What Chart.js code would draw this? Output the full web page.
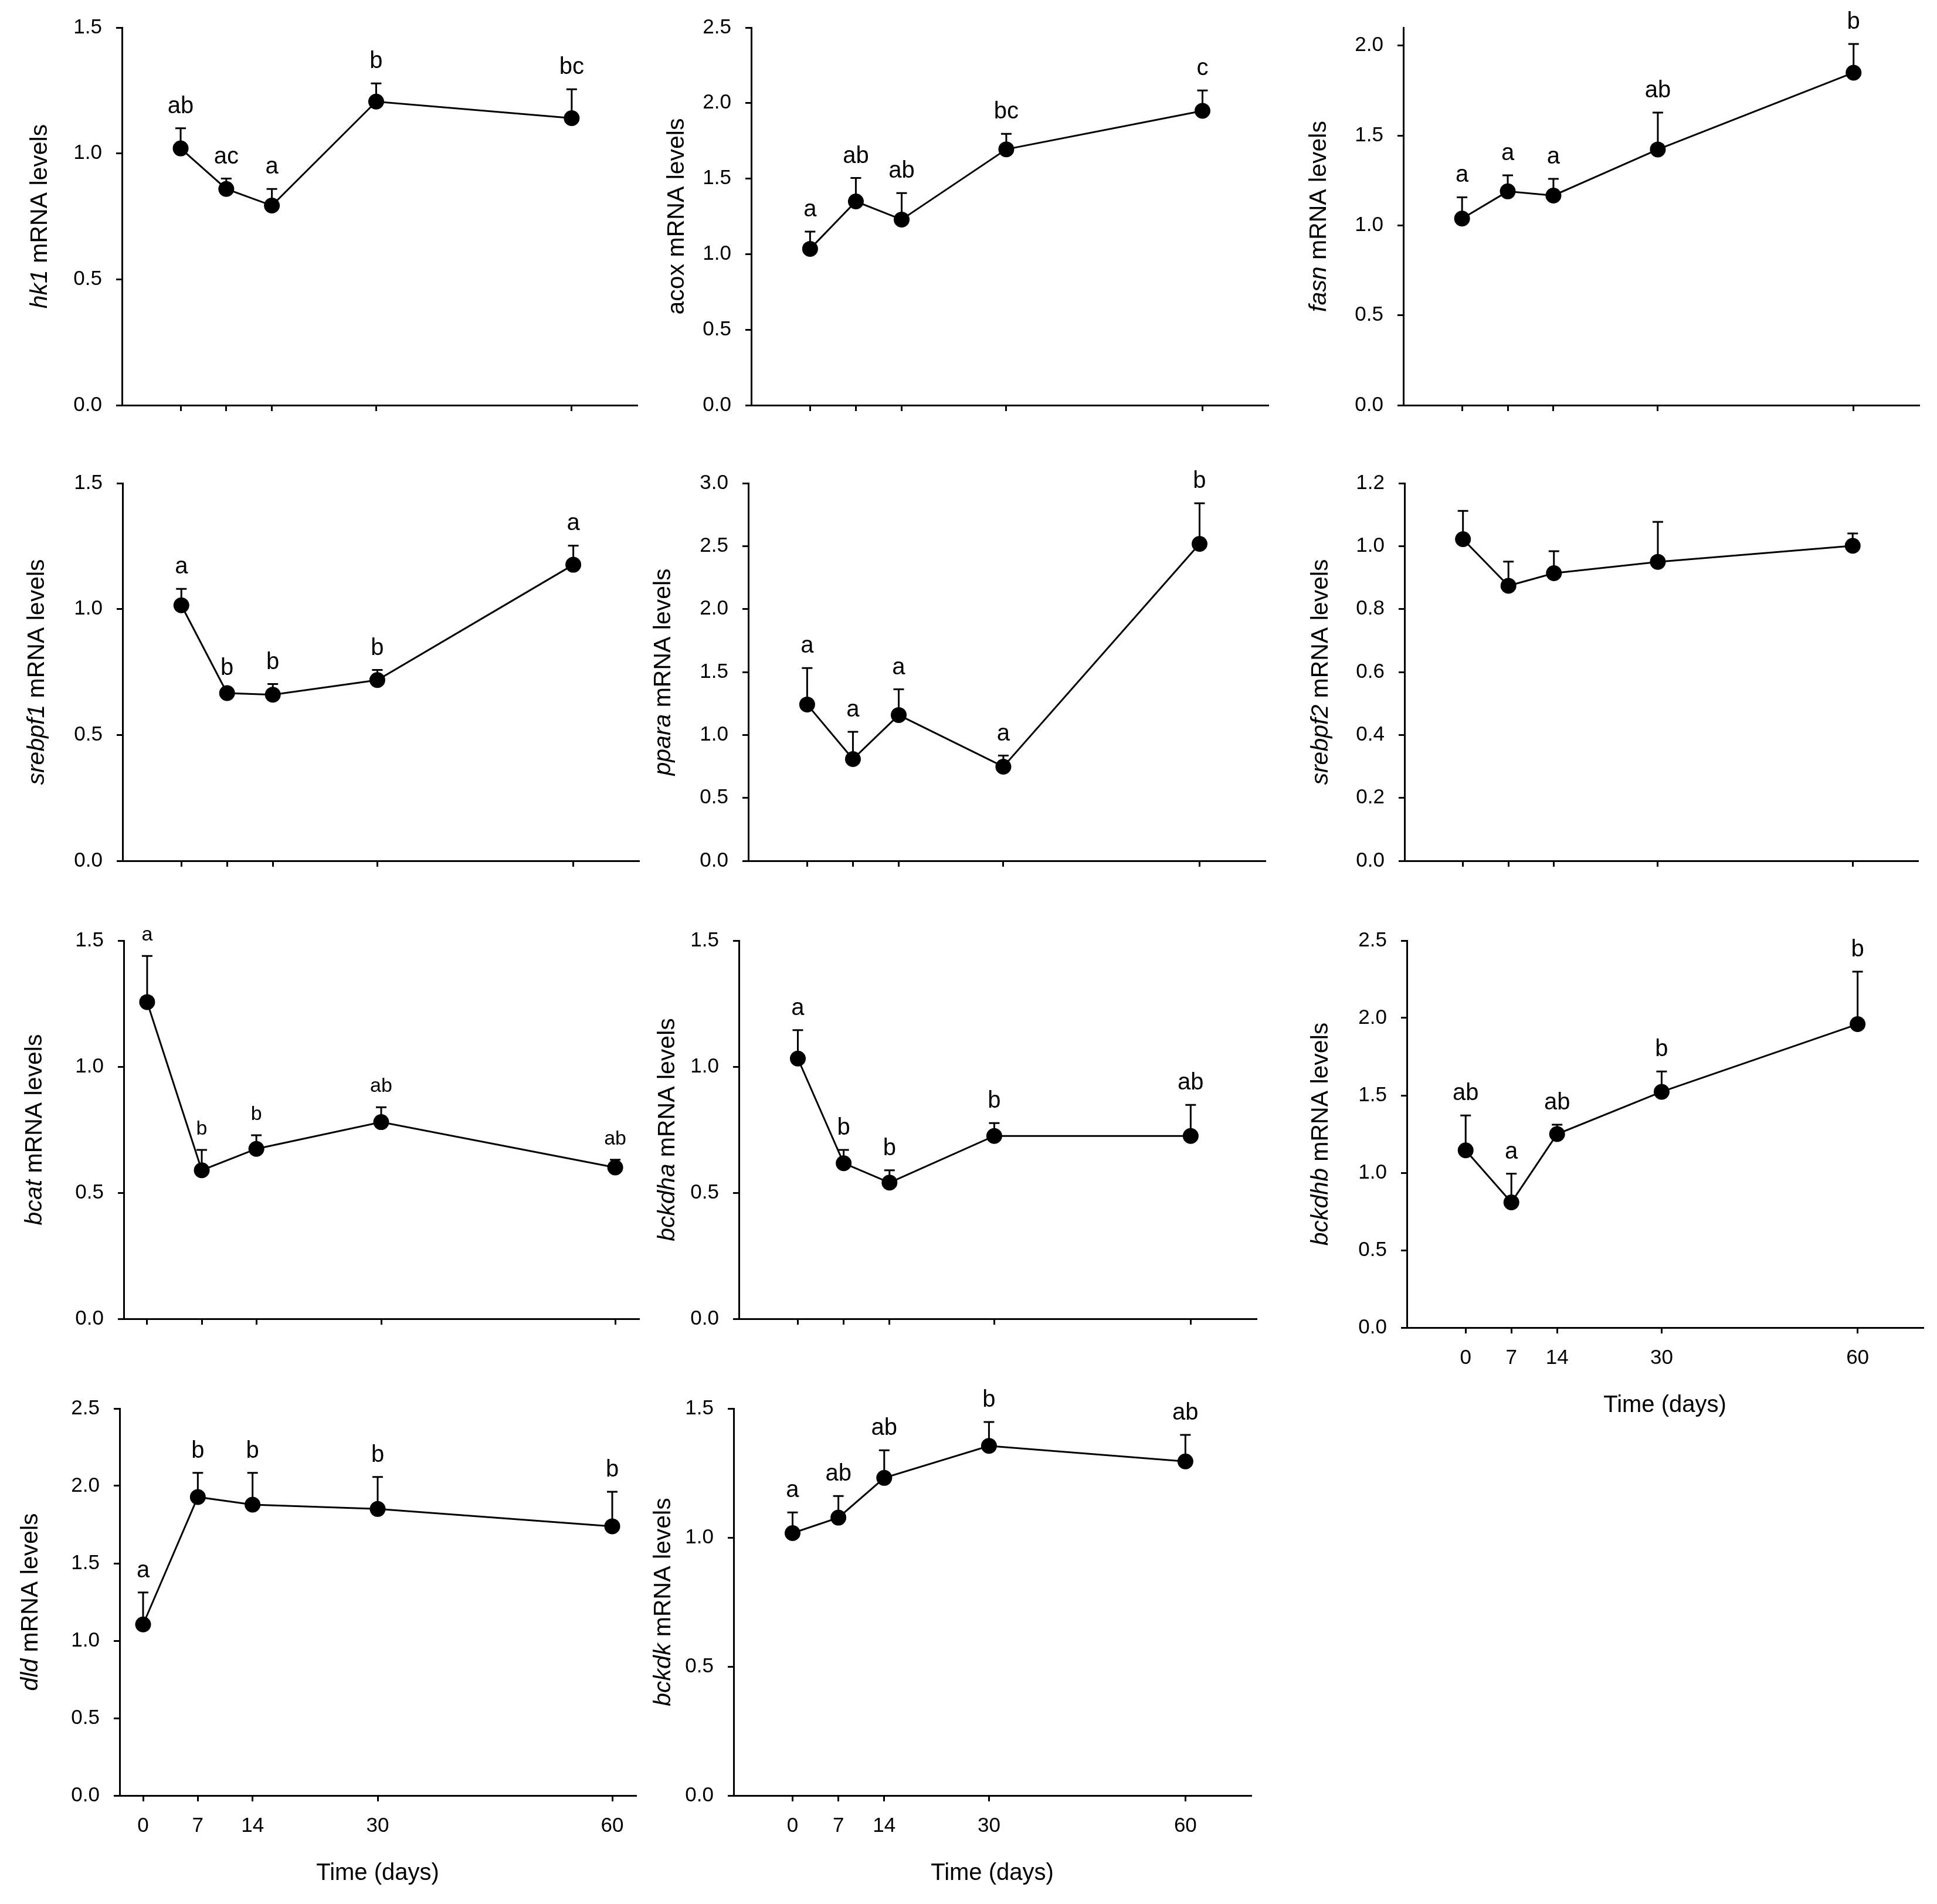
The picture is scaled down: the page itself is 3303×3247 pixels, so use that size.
<!DOCTYPE html>
<html>
<head>
<meta charset="utf-8">
<script src="https://cdn.jsdelivr.net/npm/chart.js@4.4.1/dist/chart.umd.min.js"></script>
<style>
html,body{margin:0;padding:0;background:#fff;}
body{width:3303px;height:3247px;position:relative;overflow:hidden;}
canvas{position:absolute;}
</style>
</head>
<body>
<script>
// ---------- DATA ----------
const days = [0, 7, 14, 30, 60];
const xTickLabels = ['0', '7', '14', '30', '60'];
const xTitle = 'Time (days)';
const yTitleSuffix = ' mRNA levels';

const hk1Mean = [1.020, 0.859, 0.793, 1.206, 1.140];
const hk1Err = [0.080, 0.041, 0.066, 0.072, 0.115];
const hk1Letters = ['ab', 'ac', 'a', 'b', 'bc'];

const acoxMean = [1.035, 1.349, 1.229, 1.694, 1.949];
const acoxErr = [0.114, 0.155, 0.175, 0.102, 0.135];
const acoxLetters = ['a', 'ab', 'ab', 'bc', 'c'];

const fasnMean = [1.038, 1.189, 1.166, 1.422, 1.849];
const fasnErr = [0.118, 0.089, 0.093, 0.205, 0.160];
const fasnLetters = ['a', 'a', 'a', 'ab', 'b'];

const srebpf1Mean = [1.015, 0.666, 0.660, 0.718, 1.176];
const srebpf1Err = [0.065, 0.012, 0.042, 0.040, 0.076];
const srebpf1Letters = ['a', 'b', 'b', 'b', 'a'];

const pparaMean = [1.242, 0.808, 1.158, 0.748, 2.518];
const pparaErr = [0.289, 0.217, 0.204, 0.088, 0.322];
const pparaLetters = ['a', 'a', 'a', 'a', 'b'];

const srebpf2Mean = [1.022, 0.874, 0.914, 0.950, 1.001];
const srebpf2Err = [0.090, 0.077, 0.070, 0.127, 0.039];
const srebpf2Letters = ['', '', '', '', ''];

const bcatMean = [1.256, 0.589, 0.674, 0.780, 0.600];
const bcatErr = [0.183, 0.081, 0.054, 0.059, 0.031];
const bcatLetters = ['a', 'b', 'b', 'ab', 'ab'];

const bckdhaMean = [1.032, 0.617, 0.540, 0.725, 0.725];
const bckdhaErr = [0.113, 0.053, 0.049, 0.051, 0.123];
const bckdhaLetters = ['a', 'b', 'b', 'b', 'ab'];

const bckdhbMean = [1.145, 0.809, 1.250, 1.523, 1.960];
const bckdhbErr = [0.225, 0.185, 0.061, 0.131, 0.339];
const bckdhbLetters = ['ab', 'a', 'ab', 'b', 'b'];

const dldMean = [1.105, 1.928, 1.879, 1.851, 1.739];
const dldErr = [0.207, 0.156, 0.205, 0.207, 0.223];
const dldLetters = ['a', 'b', 'b', 'b', 'b'];

const bckdkMean = [1.017, 1.077, 1.231, 1.355, 1.295];
const bckdkErr = [0.080, 0.084, 0.107, 0.093, 0.103];
const bckdkLetters = ['a', 'ab', 'ab', 'b', 'ab'];

// ---------- PANELS (data refs + layout) ----------
const panels = [
  {gene:'hk1', italic:true, mean:hk1Mean, err:hk1Err, letters:hk1Letters, yMax:1.5, yStep:0.5, xMin:-9, xMax:70,
   L:208, T:47, B:706, R:1086, titleDx:139, showX:false, letterSize:40},
  {gene:'acox', italic:false, mean:acoxMean, err:acoxErr, letters:acoxLetters, yMax:2.5, yStep:0.5, xMin:-9, xMax:70,
   L:1281, T:47, B:706, R:2162, titleDx:126, showX:false, letterSize:40},
  {gene:'fasn', italic:true, mean:fasnMean, err:fasnErr, letters:fasnLetters, yMax:2.1, yStep:0.5, xMin:-9, xMax:70,
   L:2393, T:47, B:706, R:3272, titleDx:143, showX:false, letterSize:40},

  {gene:'srebpf1', italic:true, mean:srebpf1Mean, err:srebpf1Err, letters:srebpf1Letters, yMax:1.5, yStep:0.5, xMin:-9, xMax:70,
   L:209, T:824, B:1483, R:1089, titleDx:145, showX:false, letterSize:40},
  {gene:'ppara', italic:true, mean:pparaMean, err:pparaErr, letters:pparaLetters, yMax:3.0, yStep:0.5, xMin:-9, xMax:70,
   L:1276, T:824, B:1483, R:2157, titleDx:144, showX:false, letterSize:40},
  {gene:'srebpf2', italic:true, mean:srebpf2Mean, err:srebpf2Err, letters:srebpf2Letters, yMax:1.2, yStep:0.2, xMin:-9, xMax:70,
   L:2395, T:824, B:1483, R:3270, titleDx:142, showX:false, letterSize:40},

  {gene:'bcat', italic:true, mean:bcatMean, err:bcatErr, letters:bcatLetters, yMax:1.5, yStep:0.5, xMin:-3, xMax:63,
   L:211, T:1604, B:2264, R:1089, titleDx:151, showX:false, letterSize:34},
  {gene:'bckdha', italic:true, mean:bckdhaMean, err:bckdhaErr, letters:bckdhaLetters, yMax:1.5, yStep:0.5, xMin:-9, xMax:70,
   L:1260, T:1604, B:2264, R:2142, titleDx:121, showX:false, letterSize:40},
  {gene:'bckdhb', italic:true, mean:bckdhbMean, err:bckdhbErr, letters:bckdhbLetters, yMax:2.5, yStep:0.5, xMin:-9, xMax:70,
   L:2399, T:1604, B:2264, R:3279, titleDx:146, showX:true, letterSize:40},

  {gene:'dld', italic:true, mean:dldMean, err:dldErr, letters:dldLetters, yMax:2.5, yStep:0.5, xMin:-3, xMax:63,
   L:204, T:2402, B:3062, R:1084, titleDx:151, showX:true, letterSize:40},
  {gene:'bckdk', italic:true, mean:bckdkMean, err:bckdkErr, letters:bckdkLetters, yMax:1.5, yStep:0.5, xMin:-9, xMax:70,
   L:1251, T:2402, B:3062, R:2133, titleDx:119, showX:true, letterSize:40}
];

// ---------- RENDER ----------
const FONT = '"Liberation Sans", Arial, Helvetica, sans-serif';
const LM = 180, TM = 70, RM = 20;

function makePanel(p) {
  const BM = p.showX ? 180 : 30;
  const plotW = p.R - p.L, plotH = p.B - p.T;
  const W = LM + plotW + RM, H = TM + plotH + BM;
  const canvas = document.createElement('canvas');
  canvas.width = W; canvas.height = H;
  canvas.style.left = (p.L - LM) + 'px';
  canvas.style.top = (p.T - TM) + 'px';
  canvas.style.width = W + 'px'; canvas.style.height = H + 'px';
  document.body.appendChild(canvas);

  const annot = {
    id: 'annot_' + p.gene,
    beforeDatasetsDraw(chart) {
      const {ctx, scales: {x, y}} = chart;
      ctx.save();
      ctx.strokeStyle = '#000'; ctx.lineWidth = 3;
      p.mean.forEach((m, i) => {
        const px = x.getPixelForValue(days[i]);
        const py = y.getPixelForValue(m);
        const pt = y.getPixelForValue(m + p.err[i]);
        ctx.beginPath();
        ctx.moveTo(px, py); ctx.lineTo(px, pt);
        ctx.moveTo(px - 9, pt); ctx.lineTo(px + 9, pt);
        ctx.stroke();
      });
      ctx.restore();
    },
    afterDatasetsDraw(chart) {
      const {ctx, scales: {x, y}} = chart;
      ctx.save();
      ctx.fillStyle = '#000';
      ctx.font = p.letterSize + 'px ' + FONT;
      ctx.textAlign = 'center'; ctx.textBaseline = 'alphabetic';
      p.letters.forEach((t, i) => {
        if (!t) return;
        const px = x.getPixelForValue(days[i]);
        const pt = y.getPixelForValue(p.mean[i] + p.err[i]);
        ctx.fillText(t, px, pt - 26);
      });
      ctx.restore();
    },
    afterDraw(chart) {
      const {ctx, chartArea} = chart;
      ctx.save();
      ctx.fillStyle = '#000';
      // y title: italic gene + regular suffix
      const cx = chartArea.left - p.titleDx;
      const cy = (chartArea.top + chartArea.bottom) / 2;
      ctx.translate(cx, cy);
      ctx.rotate(-Math.PI / 2);
      const f1 = (p.italic ? 'italic ' : '') + '41px ' + FONT;
      const f2 = '41px ' + FONT;
      ctx.font = f1; const w1 = ctx.measureText(p.gene).width;
      ctx.font = f2; const w2 = ctx.measureText(yTitleSuffix).width;
      const start = -(w1 + w2) / 2;
      ctx.textAlign = 'left'; ctx.textBaseline = 'middle';
      ctx.font = f1; ctx.fillText(p.gene, start, 0);
      ctx.font = f2; ctx.fillText(yTitleSuffix, start + w1, 0);
      ctx.restore();
      if (p.showX) {
        ctx.save();
        ctx.fillStyle = '#000';
        ctx.font = '40px ' + FONT;
        ctx.textAlign = 'center'; ctx.textBaseline = 'middle';
        ctx.fillText(xTitle, (chartArea.left + chartArea.right) / 2, chartArea.bottom + 133);
        ctx.restore();
      }
    }
  };

  new Chart(canvas, {
    type: 'line',
    data: {
      datasets: [{
        data: p.mean.map((m, i) => ({x: days[i], y: m})),
        borderColor: '#000',
        backgroundColor: '#000',
        borderWidth: 3,
        pointRadius: 13.5,
        pointHoverRadius: 13.5,
        pointBorderWidth: 0,
        pointBackgroundColor: '#000',
        tension: 0,
        fill: false,
        clip: false
      }]
    },
    options: {
      responsive: false,
      animation: false,
      devicePixelRatio: 1,
      events: [],
      layout: {padding: {top: TM, right: RM, left: 0, bottom: 0}},
      plugins: {legend: {display: false}, tooltip: {enabled: false}},
      scales: {
        x: {
          type: 'linear',
          position: 'bottom',
          min: p.xMin, max: p.xMax,
          afterBuildTicks: s => { s.ticks = days.map(v => ({value: v})); },
          afterFit: s => { s.height = BM; },
          ticks: {
            display: p.showX,
            autoSkip: false,
            maxRotation: 0,
            color: '#000',
            font: {family: FONT, size: 35},
            padding: 21,
            callback: (v) => { const k = days.indexOf(v); return k >= 0 ? xTickLabels[k] : ''; }
          },
          grid: {display: true, drawOnChartArea: false, drawTicks: true, tickLength: 10, color: '#000', lineWidth: 3},
          border: {display: true, color: '#000', width: 3}
        },
        y: {
          type: 'linear',
          position: 'left',
          min: 0, max: p.yMax,
          afterFit: s => { s.width = LM; },
          ticks: {
            stepSize: p.yStep,
            includeBounds: false,
            color: '#000',
            font: {family: FONT, size: 35},
            padding: 24,
            callback: (v) => Number(v).toFixed(1)
          },
          grid: {display: true, drawOnChartArea: false, drawTicks: true, tickLength: 10, color: '#000', lineWidth: 3},
          border: {display: true, color: '#000', width: 3}
        }
      }
    },
    plugins: [annot]
  });
}

panels.forEach(makePanel);
</script>
</body>
</html>
